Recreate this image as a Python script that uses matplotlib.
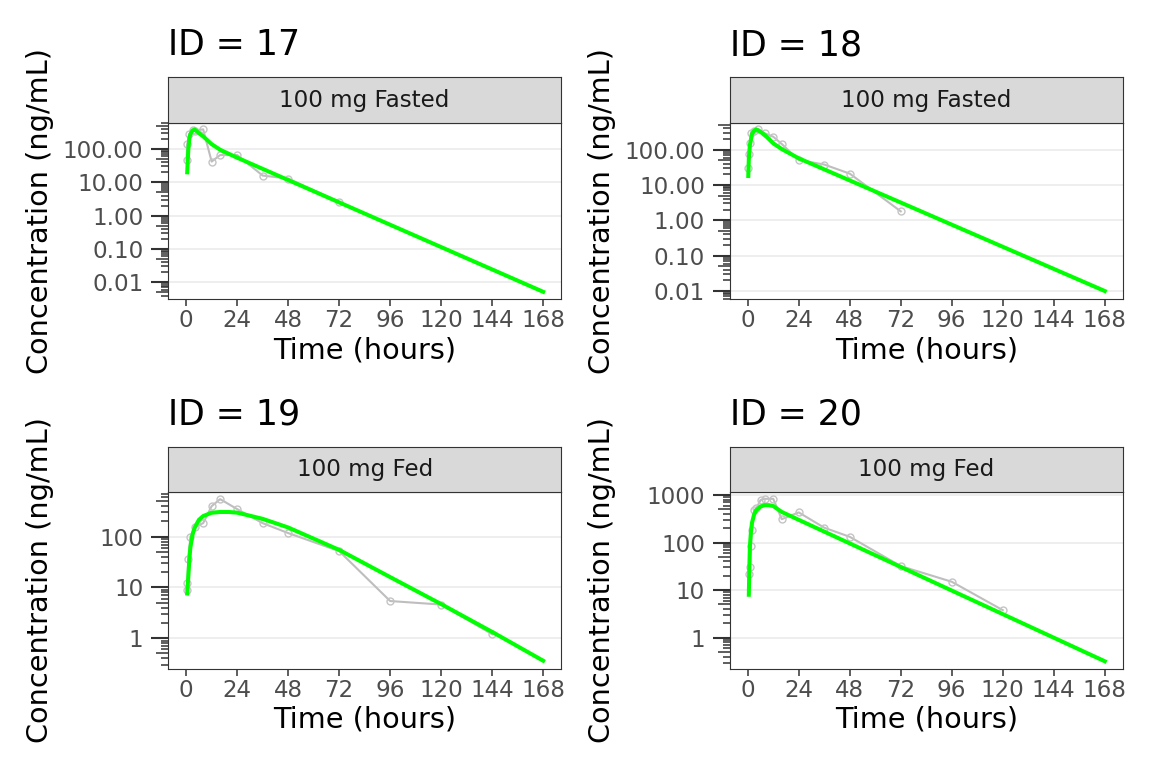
import matplotlib
matplotlib.use("Agg")
import matplotlib.pyplot as plt
from matplotlib.ticker import LogLocator, NullLocator, FuncFormatter, NullFormatter

plt.rcParams["font.family"] = ["DejaVu Sans"]

# ---- data ----
subject_ids = ["17", "18", "19", "20"]
treatments = ["100 mg Fasted", "100 mg Fasted", "100 mg Fed", "100 mg Fed"]
time_ticks = [0, 24, 48, 72, 96, 120, 144, 168]

obs_time_17 = [0.25, 0.5, 1.5, 3, 4, 8, 12, 16, 24, 36, 48, 72]
obs_conc_17 = [47, 138, 282, 372, 355, 390, 42, 66, 66, 16, 13, 2.6]
obs_time_18 = [0.25, 0.5, 1, 1.5, 3, 5, 8, 12, 16, 24, 36, 48, 72]
obs_conc_18 = [31, 74, 150, 300, 345, 385, 290, 233, 145, 51, 38, 21, 1.8]
obs_time_19 = [0.25, 0.5, 1, 2, 4, 8, 12, 16, 24, 36, 48, 72, 96, 120, 144]
obs_conc_19 = [9, 12, 37, 100, 155, 185, 400, 550, 350, 185, 118, 52, 5.4, 4.6, 1.2]
obs_time_20 = [0.5, 1, 1.5, 2, 3, 4, 6, 8, 12, 16, 24, 36, 48, 72, 96, 120]
obs_conc_20 = [22, 30, 85, 180, 480, 520, 780, 830, 830, 310, 430, 205, 132, 32, 15, 3.8]

pred_time_17 = [0.5, 1, 1.5, 2, 3, 4, 5, 6, 8, 12, 16, 24, 168]
pred_conc_17 = [20, 93, 209, 282, 360, 385, 340, 300, 240, 140, 95, 55, 0.0052]
pred_time_18 = [0.25, 0.5, 1, 2, 3, 4, 6, 8, 12, 16, 24, 168]
pred_conc_18 = [18, 55, 135, 277, 345, 375, 320, 260, 151, 104, 57, 0.01]
pred_time_19 = [0.5, 1, 1.5, 2, 3, 4, 6, 8, 12, 16, 20, 24, 36, 48, 72, 96, 120, 144, 168]
pred_conc_19 = [7.6, 16, 35, 62, 110, 150, 215, 255, 297, 307, 307, 298, 225, 152, 55, 16, 4.7, 1.33, 0.36]
pred_time_20 = [0.5, 0.75, 1, 1.5, 2, 3, 4, 6, 8, 10, 12, 16, 24, 168]
pred_conc_20 = [8, 30, 82, 170, 260, 390, 480, 570, 612, 610, 585, 440, 300, 0.32]

obs_times = [obs_time_17, obs_time_18, obs_time_19, obs_time_20]
obs_concs = [obs_conc_17, obs_conc_18, obs_conc_19, obs_conc_20]
pred_times = [pred_time_17, pred_time_18, pred_time_19, pred_time_20]
pred_concs = [pred_conc_17, pred_conc_18, pred_conc_19, pred_conc_20]

# ---- layout (pixels of a 1152x768 canvas) ----
W, H = 1152, 768
col_left = [168.3, 729.9]
row_top = [122.7, 492.3]
panel_w, panel_h = 392.7, 176.3
strip_h = 45.7
ylims_log = [(-2.5, 2.79), (-2.226, 2.764), (-0.599, 2.875), (-0.649, 3.056)]
two_decimals = [True, True, False, False]

TICK_COL = "#333333"
LAB_COL = "#4D4D4D"
TICK_FS = 16.6
AXIS_FS = 20.7
TITLE_FS = 25


def rect(left, top, w, h):
    return [left / W, 1 - (top + h) / H, w / W, h / H]


fig = plt.figure(figsize=(W / 100, H / 100), dpi=100)

for i in range(4):
    left = col_left[i % 2]
    top = row_top[i // 2]

    ax = fig.add_axes(rect(left, top, panel_w, panel_h))
    ax.set_yscale("log")
    ax.plot(obs_times[i], obs_concs[i], color="#BEBEBE", lw=1.5, marker="o",
            ms=5, mfc="none", mec="#C4C4C4", mew=1.0, zorder=2)
    ax.plot(pred_times[i], pred_concs[i], color="#00FF00", lw=2.9, zorder=3)

    lo, hi = ylims_log[i]
    ax.set_xlim(-8.4, 176.4)
    ax.set_ylim(10 ** lo, 10 ** hi)
    ax.set_xticks(time_ticks)

    ax.yaxis.set_major_locator(LogLocator(base=10, numticks=20))
    ax.yaxis.set_minor_locator(LogLocator(base=10, subs=(2, 3, 4, 6, 7, 8, 9), numticks=20))
    ax.yaxis.set_minor_formatter(NullFormatter())
    if two_decimals[i]:
        ax.yaxis.set_major_formatter(FuncFormatter(lambda v, p: f"{v:.2f}"))
    else:
        ax.yaxis.set_major_formatter(FuncFormatter(lambda v, p: f"{v:.0f}"))

    ax.grid(axis="y", which="major", color="#EBEBEB", lw=1.2)
    ax.set_axisbelow(True)
    for s in ax.spines.values():
        s.set_color(TICK_COL)
        s.set_linewidth(0.8)

    ax.tick_params(axis="x", length=5, width=1.1, color=TICK_COL, labelcolor=LAB_COL,
                   labelsize=TICK_FS, pad=2.5)
    ax.tick_params(axis="y", which="major", length=12, width=1.5, color=TICK_COL,
                   labelcolor=LAB_COL, labelsize=TICK_FS, pad=6)
    ax.tick_params(axis="y", which="minor", length=4.8, width=1.1, color=TICK_COL)

    # mid log ticks at 5 x decade
    sec = ax.secondary_yaxis("left")
    sec.yaxis.set_major_locator(LogLocator(base=10, subs=(5,), numticks=20))
    sec.yaxis.set_minor_locator(NullLocator())
    sec.tick_params(axis="y", length=8.4, width=1.1, color=TICK_COL, labelleft=False)
    sec.spines["left"].set_visible(False)

    ax.set_xlabel("Time (hours)", fontsize=AXIS_FS)
    ax.set_ylabel("Concentration (ng/mL)", fontsize=AXIS_FS)
    ax.xaxis.set_label_coords(0.5, -0.21)
    ax.yaxis.set_label_coords((54 - col_left[0]) / panel_w, 0.5)

    # facet strip
    sax = fig.add_axes(rect(left, top - strip_h, panel_w, strip_h))
    sax.set_facecolor("#D9D9D9")
    sax.set_xticks([])
    sax.set_yticks([])
    for s in sax.spines.values():
        s.set_color(TICK_COL)
        s.set_linewidth(0.8)
    fig.text((left + panel_w / 2) / W, 1 - (top - 16) / H, treatments[i],
             ha="center", va="baseline", fontsize=TICK_FS, color="#1A1A1A")

    # panel title
    fig.text(left / W, 1 - (top - 67.7) / H, f"ID = {subject_ids[i]}",
             ha="left", va="baseline", fontsize=TITLE_FS, color="black")

fig.savefig("out.png", dpi=100)
